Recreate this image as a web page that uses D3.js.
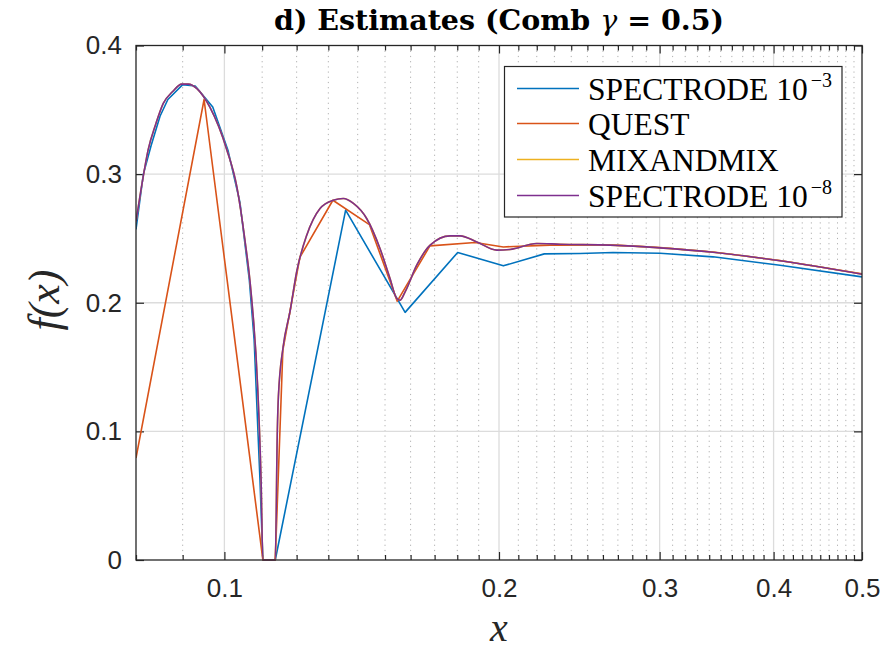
<!DOCTYPE html>
<html>
<head>
<meta charset="utf-8">
<script src="https://cdn.jsdelivr.net/npm/d3@7"></script>
<style>
html,body{margin:0;padding:0;background:#fff;}
svg{display:block;}
</style>
</head>
<body>
<svg id="chart" width="888" height="659"></svg>
<script>
// ---------------- data ----------------
const seriesNames = ["SPECTRODE 10", "QUEST", "MIXANDMIX", "SPECTRODE 10"];
const seriesSup = ["\u22123", "", "", "\u22128"];
const seriesColors = ["#0072BD", "#D95319", "#EDB120", "#7E2F8E"];

const spectrode3 = [
  [0.0800,0.257],[0.0815,0.300],[0.0831,0.322],[0.0850,0.345],[0.0867,0.358],
  [0.0900,0.3696],[0.0929,0.3685],[0.0971,0.3522],[0.1009,0.3186],[0.1040,0.278],
  [0.1065,0.2176],[0.1078,0.171],[0.1094,0.062],[0.1102,0.0],[0.1137,0.0],
  [0.1358,0.272],[0.1578,0.1925],[0.1802,0.2391],[0.2022,0.2287],[0.2242,0.2380],
  [0.2454,0.2383],[0.2667,0.2391],[0.3003,0.2385],[0.3433,0.2357],[0.4065,0.2292],
  [0.5000,0.2201]
];

const quest = [
  [0.0800,0.0793],[0.0950,0.358],[0.1102,0.0],[0.1137,0.0],[0.1159,0.1632],
  [0.1210,0.2354],[0.1315,0.2797],[0.1442,0.2608],[0.1547,0.2012],[0.1680,0.2442],
  [0.1883,0.2469],[0.2022,0.2434],[0.2275,0.2448],[0.2647,0.2450],[0.3003,0.2430],
  [0.3433,0.2395],[0.4065,0.2328],[0.5000,0.2225]
];

const mixandmix = [
  [0.0800,0.263],[0.0812,0.292],[0.0825,0.319],[0.0841,0.339],[0.0857,0.355],
  [0.0877,0.364],[0.0898,0.370],[0.0913,0.370],[0.0933,0.3665],[0.0964,0.352],
  [0.1006,0.319],[0.1032,0.290],[0.1053,0.249],[0.1069,0.210],[0.1088,0.132],
  [0.1097,0.062],[0.1102,0.0],[0.1137,0.0],[0.1143,0.101],[0.1146,0.127],
  [0.1160,0.166],[0.1180,0.193],[0.1200,0.224],[0.1231,0.2525],[0.1273,0.2733],
  [0.1316,0.2797],[0.1350,0.281],[0.1385,0.2772],[0.1432,0.2655],[0.1481,0.2422],
  [0.1519,0.2189],[0.1545,0.2033],[0.1558,0.2020],[0.1578,0.2085],[0.1625,0.2292],
  [0.1681,0.2448],[0.1768,0.2520],[0.1813,0.2520],[0.1891,0.2473],[0.1989,0.2409],
  [0.2056,0.2414],[0.2200,0.2461],[0.2333,0.2455],[0.2647,0.2448],[0.3003,0.2427],
  [0.3433,0.2393],[0.4065,0.2326],[0.5000,0.2222]
];

const spectrode8 = [
  [0.0800,0.263],[0.0812,0.292],[0.0825,0.319],[0.0841,0.339],[0.0857,0.355],
  [0.0877,0.364],[0.0898,0.370],[0.0913,0.370],[0.0933,0.3665],[0.0964,0.352],
  [0.1006,0.319],[0.1032,0.290],[0.1053,0.249],[0.1069,0.210],[0.1088,0.132],
  [0.1097,0.062],[0.1102,0.0],[0.1137,0.0],[0.1143,0.101],[0.1146,0.127],
  [0.1160,0.166],[0.1180,0.193],[0.1200,0.224],[0.1231,0.2525],[0.1273,0.2733],
  [0.1316,0.2797],[0.1350,0.281],[0.1385,0.2772],[0.1432,0.2655],[0.1481,0.2422],
  [0.1519,0.2189],[0.1545,0.2033],[0.1558,0.2020],[0.1578,0.2085],[0.1625,0.2292],
  [0.1681,0.2448],[0.1768,0.2520],[0.1813,0.2520],[0.1891,0.2473],[0.1989,0.2409],
  [0.2056,0.2414],[0.2200,0.2461],[0.2333,0.2455],[0.2647,0.2448],[0.3003,0.2427],
  [0.3433,0.2393],[0.4065,0.2326],[0.5000,0.2222]
];

const xDomain = [0.08, 0.5];
const yDomain = [0, 0.4];
const xMajorTicks = [0.1, 0.2, 0.3, 0.4, 0.5];
const xMajorLabels = ["0.1", "0.2", "0.3", "0.4", "0.5"];
const xMinorTicks = [0.08,0.09,0.11,0.12,0.13,0.14,0.15,0.16,0.17,0.18,0.19,
  0.21,0.22,0.23,0.24,0.25,0.26,0.27,0.28,0.29,
  0.31,0.32,0.33,0.34,0.35,0.36,0.37,0.38,0.39,
  0.41,0.42,0.43,0.44,0.45,0.46,0.47,0.48,0.49];
const yTicks = [0, 0.1, 0.2, 0.3, 0.4];
const yTickLabels = ["0", "0.1", "0.2", "0.3", "0.4"];

// ---------------- layout ----------------
const L = 136, R = 862, T = 45.5, B = 560;
const svg = d3.select("#chart");
const x = d3.scaleLog().domain(xDomain).range([L, R]);
const y = d3.scaleLinear().domain(yDomain).range([B, T]);
const axisColor = "#262626";

// grid
const grid = svg.append("g");
grid.selectAll(".minor").data(xMinorTicks.filter(v => v > xDomain[0])).enter().append("line")
  .attr("x1", d => x(d)).attr("x2", d => x(d)).attr("y1", T).attr("y2", B)
  .attr("stroke", "#b0b0b0").attr("stroke-width", 1).attr("stroke-dasharray", "1.2,4");
grid.selectAll(".majx").data(xMajorTicks.filter(v => v < xDomain[1])).enter().append("line")
  .attr("x1", d => x(d)).attr("x2", d => x(d)).attr("y1", T).attr("y2", B)
  .attr("stroke", "#dcdcdc").attr("stroke-width", 1.3);
grid.selectAll(".majy").data(yTicks.filter(v => v > 0 && v < 0.4)).enter().append("line")
  .attr("x1", L).attr("x2", R).attr("y1", d => y(d)).attr("y2", d => y(d))
  .attr("stroke", "#dcdcdc").attr("stroke-width", 1.3);

// axes via d3
function styleAxis(g) {
  g.select(".domain").remove();
  g.selectAll(".tick line").attr("stroke", axisColor).attr("stroke-width", 1.2);
}
svg.append("g").attr("transform", `translate(0,${B})`)
  .call(d3.axisBottom(x).tickValues(xMinorTicks).tickSize(-5).tickFormat(""))
  .call(styleAxis);
svg.append("g").attr("transform", `translate(0,${T})`)
  .call(d3.axisTop(x).tickValues(xMinorTicks).tickSize(-5).tickFormat(""))
  .call(styleAxis);
const xb = svg.append("g").attr("transform", `translate(0,${B})`)
  .call(d3.axisBottom(x).tickValues(xMajorTicks).tickSize(-8).tickPadding(19)
    .tickFormat((d, i) => xMajorLabels[i]))
  .call(styleAxis);
svg.append("g").attr("transform", `translate(0,${T})`)
  .call(d3.axisTop(x).tickValues(xMajorTicks).tickSize(-8).tickFormat(""))
  .call(styleAxis);
const yl = svg.append("g").attr("transform", `translate(${L},0)`)
  .call(d3.axisLeft(y).tickValues(yTicks).tickSize(-8).tickPadding(14)
    .tickFormat((d, i) => yTickLabels[i]))
  .call(styleAxis);
svg.append("g").attr("transform", `translate(${R},0)`)
  .call(d3.axisRight(y).tickValues(yTicks).tickSize(-8).tickFormat(""))
  .call(styleAxis);

[xb, yl].forEach(g => g.selectAll(".tick text")
  .attr("fill", axisColor).attr("font-family", "'Liberation Sans', Arial, sans-serif")
  .attr("font-size", 26));
xb.selectAll(".tick text").attr("dy", "0.71em");

// series
const line = d3.line().x(d => x(d[0])).y(d => y(d[1]));
const smooth = d3.line().x(d => x(d[0])).y(d => y(d[1])).curve(d3.curveMonotoneX);
svg.append("defs").append("clipPath").attr("id", "clip")
  .append("rect").attr("x", L).attr("y", T - 2).attr("width", R - L).attr("height", B - T + 4);
const plot = svg.append("g").attr("clip-path", "url(#clip)");
const allSeries = [spectrode3, quest, mixandmix, spectrode8];
const gens = [line, line, smooth, smooth];
allSeries.forEach((s, i) => {
  plot.append("path").datum(s).attr("d", gens[i]).attr("fill", "none")
    .attr("stroke", seriesColors[i]).attr("stroke-width", 1.6)
    .attr("stroke-linejoin", "round");
});

// box
svg.append("rect").attr("x", L).attr("y", T).attr("width", R - L).attr("height", B - T)
  .attr("fill", "none").attr("stroke", axisColor).attr("stroke-width", 1.3);

// legend
const lg = svg.append("g");
lg.append("rect").attr("x", 504.5).attr("y", 66.5).attr("width", 337.5).attr("height", 150.5)
  .attr("fill", "#fff").attr("stroke", axisColor).attr("stroke-width", 1.2);
const rowY = [88.5, 123.5, 159.5, 195.5];
seriesNames.forEach((n, i) => {
  lg.append("line").attr("x1", 517).attr("x2", 579).attr("y1", rowY[i]).attr("y2", rowY[i])
    .attr("stroke", seriesColors[i]).attr("stroke-width", 1.6);
  const t = lg.append("text").attr("x", 588).attr("y", rowY[i] + 11)
    .attr("font-family", "'Liberation Serif', 'Times New Roman', serif")
    .attr("font-size", 31.5).attr("fill", "#000");
  t.append("tspan").text(n);
  if (seriesSup[i]) {
    t.append("tspan").attr("dx", 3).attr("dy", -13).attr("font-size", 20).text(seriesSup[i]);
  }
});

// title
const title = svg.append("text").attr("x", 499).attr("y", 30).attr("text-anchor", "middle")
  .attr("font-family", "'DejaVu Serif', serif").attr("font-weight", "bold")
  .attr("font-size", 28.5).attr("fill", "#000");
title.append("tspan").text("d) Estimates (Comb ");
title.append("tspan").attr("font-style", "italic").attr("font-weight", "normal").text("\u03B3");
title.append("tspan").text(" = 0.5)");

// axis labels
svg.append("text").attr("x", 499).attr("y", 641).attr("text-anchor", "middle")
  .attr("font-family", "'Liberation Serif', serif").attr("font-style", "italic")
  .attr("font-size", 40).attr("fill", "#262626").text("x");
svg.append("text").attr("transform", "translate(59,300) rotate(-90)").attr("text-anchor", "middle")
  .attr("font-family", "'Liberation Serif', serif").attr("font-style", "italic")
  .attr("font-size", 44).attr("fill", "#262626").text("f(x)");
</script>
</body>
</html>
